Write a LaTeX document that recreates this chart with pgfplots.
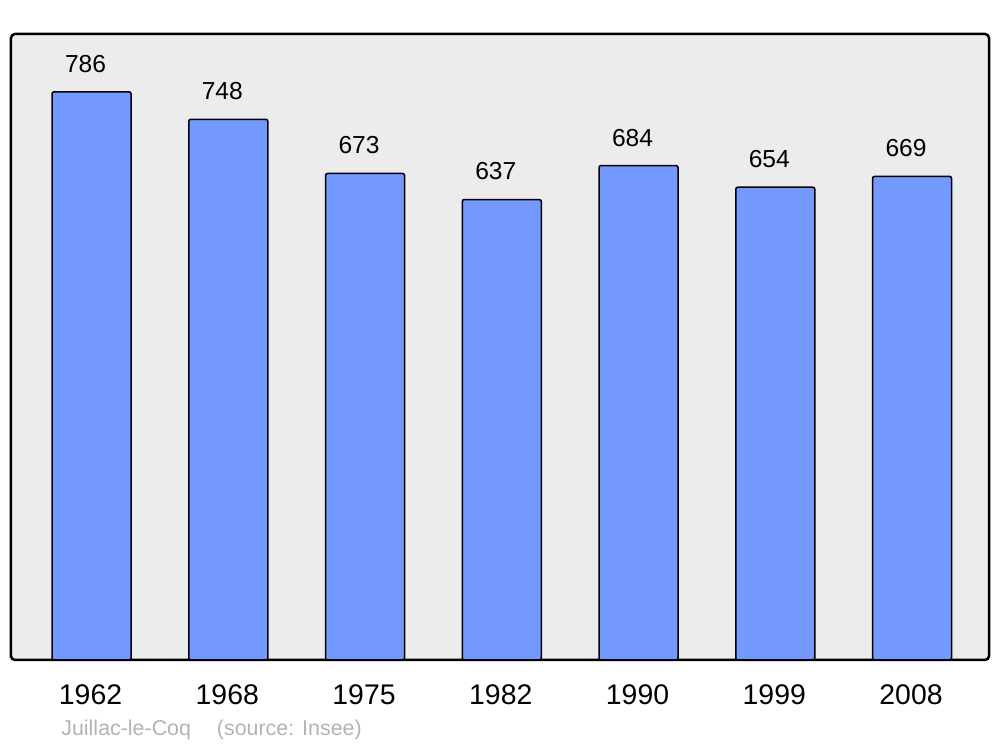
\documentclass[border=0pt]{standalone}
\usepackage{fontspec}
\setmainfont{Liberation Sans}
\usepackage{pgfplots}
\pgfplotsset{compat=1.18}
\definecolor{barblue}{HTML}{7399FF}
\definecolor{bggray}{HTML}{ECECEC}
\definecolor{srcgray}{HTML}{B3B3B3}

\begin{document}
\begin{tikzpicture}
% page frame: 1px = 0.5pt
\useasboundingbox (-5.5pt,-43.5pt) rectangle (494.5pt,330pt);
\begin{axis}[
    at={(0,0)}, anchor=south west,
    scale only axis,
    width=489pt, height=313pt,
    xmin=-0.589, xmax=6.563,
    ymin=0, ymax=866,
    ybar,
    bar width=39.5pt,
    xtick={0,...,6},
    xticklabels={1962,1968,1975,1982,1990,1999,2008},
    ytick=\empty,
    major tick length=0pt,
    xticklabel style={font=\fontsize{14.2}{14.2}\selectfont, anchor=center, yshift=-17.5pt, xshift=-0.5pt},
    axis background/.style={fill=bggray},
    axis line style={line width=1.25pt, rounded corners=2pt},
    /pgf/number format/assume math mode=true,
    nodes near coords,
    every node near coord/.append style={font=\fontsize{12.3}{12.3}\selectfont, anchor=center, yshift=14pt, xshift=-3pt},
]
\addplot[fill=barblue, draw=black, line width=0.75pt, rounded corners=1pt] coordinates {
    (0,786) (1,748) (2,673) (3,637) (4,684) (5,654) (6,669)
};
\end{axis}
\node[anchor=west, text=srcgray, font=\fontsize{10.7}{10.7}\selectfont, inner sep=0pt] at (25pt,-35pt) {Juillac-le-Coq\hspace{13pt}(source: Insee)};
\end{tikzpicture}
\end{document}
